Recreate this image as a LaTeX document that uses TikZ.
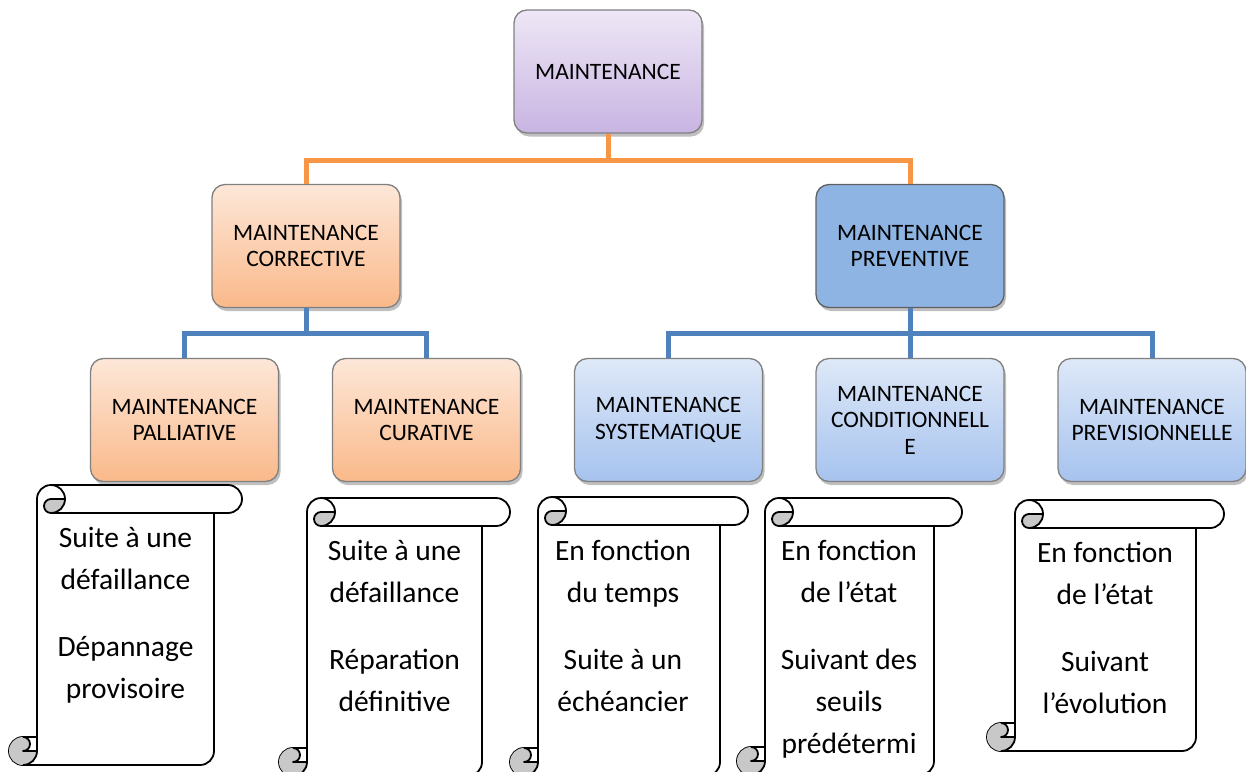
\documentclass[tikz,border=0pt]{standalone}
\usepackage{fontspec}
\setmainfont{Carlito}
\usetikzlibrary{shadows}
\definecolor{purpT}{HTML}{EEE7F6}
\definecolor{purpB}{HTML}{C8B4E2}
\definecolor{orT}{HTML}{FDE7D8}
\definecolor{orB}{HTML}{FAB98A}
\definecolor{blT}{HTML}{DEE8F8}
\definecolor{blB}{HTML}{A6C3EE}
\definecolor{blMid}{HTML}{8DB4E2}
\definecolor{oLine}{HTML}{F79646}
\definecolor{bLine}{HTML}{4F81BD}
\definecolor{curlGray}{HTML}{C8C8C8}
\definecolor{boxBorder}{HTML}{808080}
\tikzset{
  mbox/.style={draw=boxBorder, line width=1.3pt, rounded corners=13pt,
    minimum width=188pt, minimum height=123pt, align=center, inner sep=0pt,
    font=\fontsize{23.5}{26.5}\selectfont,
    drop shadow={shadow xshift=2pt, shadow yshift=-3.5pt, opacity=0.25, fill=black}},
  purplebox/.style={mbox, top color=purpT, bottom color=purpB},
  orangebox/.style={mbox, top color=orT, bottom color=orB},
  bluebox/.style={mbox, top color=blT, bottom color=blB},
  darkbox/.style={mbox, fill=blMid, draw=gray!75!black},
  oconn/.style={draw=oLine, line width=5pt},
  bconn/.style={draw=bLine, line width=5pt},
  scrollline/.style={draw=black, line width=1.8pt, line join=round},
  scrolltext/.style={align=center, anchor=base, inner sep=0pt,
    font=\fontsize{29.5}{42}\selectfont},
}
% #1 left, #2 top, #3 right, #4 bottom (screen coordinates)
\newcommand\drawscroll[4]{%
  \filldraw[scrollline, fill=white] ({#1+28},{#4-28}) -- ({#1+28},{#2+14})
    arc[start angle=180, delta angle=90, radius=14] -- ({#3-14},#2)
    arc[start angle=270, delta angle=180, radius=14] -- ({#3-28},{#2+28})
    -- ({#3-28},{#4-14}) arc[start angle=0, delta angle=90, radius=14]
    -- ({#1+14},#4) arc[start angle=90, delta angle=180, radius=14] -- cycle;
  \fill[curlGray] ({#1+56},{#2+14}) arc[start angle=0, delta angle=90, radius=14]
    arc[start angle=90, delta angle=180, radius=7] -- cycle;
  \fill[curlGray] ({#1+28},{#4-14}) arc[start angle=0, delta angle=270, radius=14]
    arc[start angle=270, delta angle=180, radius=7] -- cycle;
  \draw[scrollline] ({#1+42},#2) arc[start angle=270, delta angle=180, radius=14]
    arc[start angle=90, delta angle=180, radius=7] -- ({#1+56},{#2+14});
  \draw[scrollline] ({#3-28},{#2+28}) -- ({#1+42},{#2+28});
  \draw[scrollline] ({#1+14},{#4-28}) arc[start angle=270, delta angle=180, radius=7]
    -- ({#1+28},{#4-14});
  \draw[scrollline] ({#1+14},#4) arc[start angle=90, delta angle=-90, radius=14]
    -- ({#1+28},{#4-28});
}
\begin{document}
\begin{tikzpicture}[x=1pt, y=-1pt]
\useasboundingbox (0,0) rectangle (1246,771);
\clip (0,0) rectangle (1246,771);

% boxes
\node[purplebox] (m) at (608,71.5) {MAINTENANCE};
\node[orangebox] (corr) at (306,246) {MAINTENANCE\\CORRECTIVE};
\node[darkbox] (prev) at (910,246) {MAINTENANCE\\PREVENTIVE};
\node[orangebox] (pal) at (184.5,420) {MAINTENANCE\\PALLIATIVE};
\node[orangebox] (cur) at (426.5,420) {MAINTENANCE\\CURATIVE};
\node[bluebox] (sys) at (668.5,420) {MAINTENANCE\\SYSTEMATIQUE};
\node[bluebox] (cond) at (910,420) {MAINTENANCE\\CONDITIONNELL\\E};
\node[bluebox] (prevs) at (1152,420) {MAINTENANCE\\PREVISIONNELLE};

% connectors
\draw[oconn] (m.south) -- ++(0,27) -| (corr.north);
\draw[oconn] (m.south) -- ++(0,27) -| (prev.north);
\draw[bconn] (corr.south) -- ++(0,25) -| (pal.north);
\draw[bconn] (corr.south) -- ++(0,25) -| (cur.north);
\draw[bconn] (prev.south) -- ++(0,25) -| (sys.north);
\draw[bconn] (prev.south) -- ++(0,25) -| (cond.north);
\draw[bconn] (prev.south) -- ++(0,25) -| (prevs.north);

% scrolls
\drawscroll{9}{485}{242}{765}
\drawscroll{279}{498}{510}{776}
\drawscroll{510}{497}{748}{776}
\drawscroll{737}{498}{962}{775}
\drawscroll{987}{500}{1224}{751}

% texts (base anchor = baseline of the last line)
\node[scrolltext] (t1) at (125.5,698) {Suite à une\\défaillance\\[25pt]Dépannage\\provisoire};
\node[scrolltext] (t2) at (394.5,711) {Suite à une\\défaillance\\[25pt]Réparation\\définitive};
\node[scrolltext] (t3) at (623,711) {En fonction\\du temps\\[25pt]Suite à un\\échéancier};
\node[scrolltext] (t4) at (849,753) {En fonction\\de l’état\\[25pt]Suivant des\\seuils\\prédétermi};
\node[scrolltext] (t5) at (1105,713) {En fonction\\de l’état\\[25pt]Suivant\\l’évolution};
\end{tikzpicture}
\end{document}
